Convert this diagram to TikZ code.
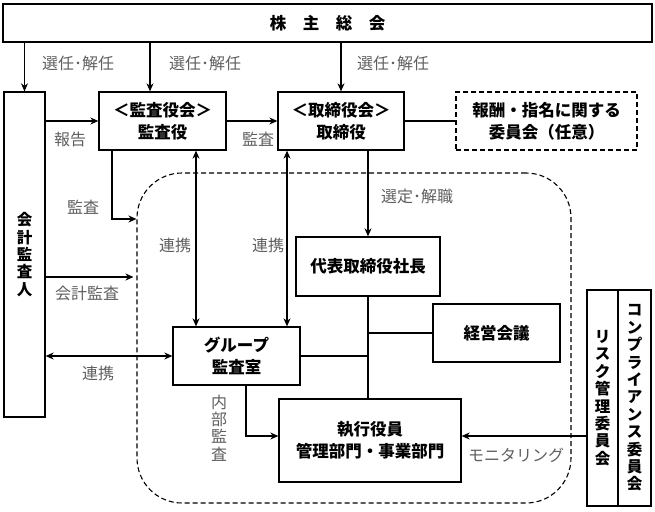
\documentclass[tikz,border=0pt]{standalone}
\usepackage{fontspec}
\setmainfont{Noto Sans CJK JP}
\usetikzlibrary{arrows.meta}
\definecolor{labelgray}{RGB}{95,95,95}

\begin{document}
\begin{tikzpicture}[x=1pt,y=-1pt,
    box/.style={rectangle,draw,line width=1.3pt,inner sep=0pt,align=center,font=\bfseries\fontsize{16.5}{22}\selectfont},
    vbox/.style={box,font=\bfseries\fontsize{15.5}{17.4}\selectfont},
    tag/.style={text=labelgray,inner sep=1pt,align=center,font=\fontsize{16}{17.4}\selectfont},
    arr/.style={-{Stealth[length=8pt,width=7pt,inset=2.5pt]},line width=1.1pt},
    dblarr/.style={{Stealth[length=8pt,width=7pt,inset=2.5pt]}-{Stealth[length=8pt,width=7pt,inset=2.5pt]},line width=1.1pt},
    ln/.style={line width=1.1pt}]
    \useasboundingbox (0,0) rectangle (655,511);
    % dashed area round the company
    \node [draw,dash pattern=on 5pt off 3pt,line width=1.1pt,rounded corners=45pt,
      minimum width=434pt,minimum height=330pt] (naibu) at (354,338) {};
    % boxes
    \node [box,minimum width=649pt,minimum height=38pt] (soukai) at (327.5,23) {株　主　総　会};
    \node [vbox,minimum width=41pt,minimum height=325pt] (kaikei) at (24.5,254.5) {会\\計\\監\\査\\人};
    \node [box,minimum width=127pt,minimum height=58pt] (kansa) at (162.5,121) {＜監査役会＞\\監査役};
    \node [box,minimum width=126pt,minimum height=58pt] (torishimari) at (341,121) {＜取締役会＞\\取締役};
    \node [box,dash pattern=on 5pt off 3pt,line width=1.2pt,minimum width=181pt,minimum height=58pt] (houshu) at (546.5,121) {報酬・指名に関する\\委員会（任意）};
    \node [box,minimum width=144pt,minimum height=59pt] (shachou) at (368,266.5) {代表取締役社長};
    \node [box,minimum width=127pt,minimum height=58pt] (keiei) at (496.5,333) {経営会議};
    \node [box,minimum width=127pt,minimum height=58pt] (group) at (236.5,356) {グループ\\監査室};
    \node [box,minimum width=182pt,minimum height=83pt] (shikkou) at (370,440.5) {執行役員\\管理部門・事業部門};
    \node [vbox,minimum width=31pt,minimum height=216pt] (risk) at (602.5,398) {リ\\ス\\ク\\管\\理\\委\\員\\会};
    \node [vbox,minimum width=33pt,minimum height=216pt] (compl) at (634.5,398) {コ\\ン\\プ\\ラ\\イ\\ア\\ン\\ス\\委\\員\\会};
    % connectors
    \draw [arr] (soukai.south -| kaikei) -- (kaikei.north);
    \draw [arr] (soukai.south -| 150,0) -- (kansa.north -| 150,0);
    \draw [arr] (soukai.south -| torishimari) -- (torishimari.north);
    \draw [arr] (kaikei.east |- kansa) -- (kansa.west);
    \draw [arr] (kansa.east) -- (torishimari.west);
    \draw [ln] (torishimari.east) -- (houshu.west);
    \draw [arr] (kansa.south -| 112,0) |- (naibu.west |- 0,219);
    \draw [arr,shorten >=3pt] (kaikei.east |- 0,277) -- (naibu.west |- 0,277);
    \draw [dblarr] (kansa.south -| 196,0) -- (group.north -| 196,0);
    \draw [dblarr] (torishimari.south -| 287,0) -- (group.north -| 287,0);
    \draw [arr] (torishimari.south -| shachou) -- (shachou.north);
    \draw [dblarr] (kaikei.east |- group) -- (group.west);
    \draw [ln] (shachou.south) -- (shachou.south |- shikkou.north);
    \draw [ln] (keiei.west) -- (keiei.west -| shachou.south);
    \draw [ln] (group.east) -- (group.east -| shachou.south);
    \draw [arr] (group.south -| 246,0) |- (shikkou.west |- 0,436);
    \draw [arr] (risk.west |- 0,436) -- (shikkou.east |- 0,436);
    % labels
    \foreach \x/\y/\t [count=\i] in {78/63/選任･解任, 205/63/選任･解任, 393/63/選任･解任,
      70/139/報告, 258/139/監査, 83/207/監査, 87/293/会計監査, 175/245/連携, 268/245/連携,
      417/196/選定･解職, 98/373/連携, 516/455/モニタリング} {
      \node [tag] (lbl\i) at (\x,\y) {\t};
    }
    \node [tag] (naibukansa) at (219,428) {内\\部\\監\\査};
  \end{tikzpicture}
\end{document}
